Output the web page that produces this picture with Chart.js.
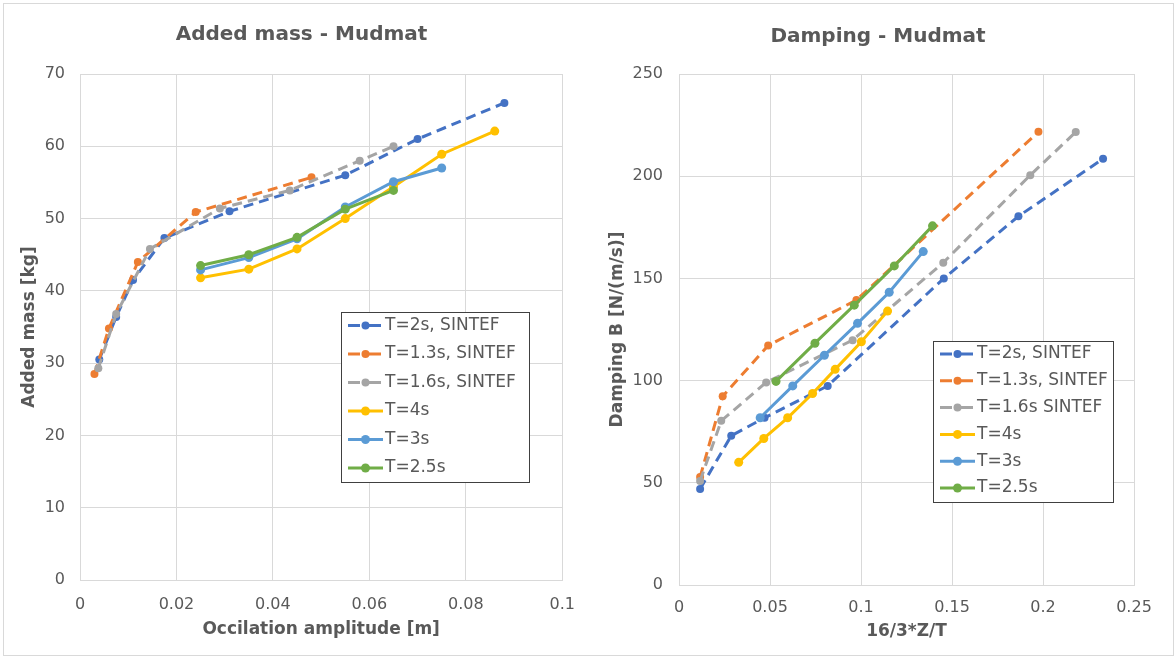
<!DOCTYPE html>
<html>
<head>
<meta charset="utf-8">
<title>Mudmat - added mass and damping</title>
<script src="https://cdn.jsdelivr.net/npm/chart.js@4.4.1/dist/chart.umd.min.js"></script>
<style>
  html, body { margin: 0; padding: 0; background: #fff; }
  #frame { position: absolute; left: 3px; top: 3px; width: 1171px; height: 653px; border: 1px solid #d9d9d9; box-sizing: border-box; }
  #massChart { position: absolute; left: 0; top: 0; }
  #dampChart { position: absolute; left: 590px; top: 0; }
</style>
</head>
<body>
<div id="frame"></div>
<canvas id="massChart" width="590" height="659"></canvas>
<canvas id="dampChart" width="586" height="659"></canvas>
<script>
// Added mass [kg] against oscillation amplitude [m]
const massAmp2s   = [0.004, 0.0075, 0.011, 0.0175, 0.031, 0.055, 0.070, 0.088];
const mass2s      = [30.5, 36.4, 41.5, 47.3, 51.0, 56.0, 61.0, 66.0];
const massAmp13s  = [0.003, 0.006, 0.012, 0.024, 0.048];
const mass13s     = [28.5, 34.8, 44.0, 50.9, 55.7];
const massAmp16s  = [0.0038, 0.0075, 0.0145, 0.029, 0.0435, 0.058, 0.065];
const mass16s     = [29.3, 36.8, 45.8, 51.4, 53.9, 58.0, 60.0];
const massAmp4s   = [0.025, 0.035, 0.045, 0.055, 0.065, 0.075, 0.086];
const mass4s      = [41.8, 43.0, 45.8, 50.0, 54.4, 58.9, 62.1];
const massAmp3s   = [0.025, 0.035, 0.045, 0.055, 0.065, 0.075];
const mass3s      = [42.9, 44.6, 47.2, 51.6, 55.1, 57.0];
const massAmp25s  = [0.025, 0.035, 0.045, 0.055, 0.065];
const mass25s     = [43.5, 45.0, 47.4, 51.3, 53.9];

// Damping B [N/(m/s)] against 16/3*Z/T
const dampX2s   = [0.0116, 0.0287, 0.047, 0.0817, 0.1455, 0.1865, 0.233];
const damp2s    = [47.0, 73.0, 81.8, 97.4, 150.0, 180.4, 208.5];
const dampX13s  = [0.0116, 0.024, 0.049, 0.0975, 0.1975];
const damp13s   = [52.8, 92.3, 117.2, 139.4, 221.7];
const dampX16s  = [0.0116, 0.0232, 0.0479, 0.0954, 0.1452, 0.193, 0.218];
const damp16s   = [50.9, 80.3, 99.1, 119.8, 157.7, 200.5, 221.6];
const dampX4s   = [0.0328, 0.0466, 0.0597, 0.0734, 0.0858, 0.1002, 0.1146];
const damp4s    = [60.0, 71.7, 81.8, 93.7, 105.5, 119.0, 134.0];
const dampX3s   = [0.0446, 0.0625, 0.0799, 0.0981, 0.1155, 0.1342];
const damp3s    = [81.8, 97.4, 112.4, 128.0, 143.2, 163.1];
const dampX25s  = [0.0533, 0.0747, 0.0963, 0.1183, 0.1393];
const damp25s   = [99.6, 118.3, 136.9, 156.1, 175.7];

const massLabels = ['T=2s, SINTEF', 'T=1.3s, SINTEF', 'T=1.6s, SINTEF', 'T=4s', 'T=3s', 'T=2.5s'];
const dampLabels = ['T=2s, SINTEF', 'T=1.3s, SINTEF', 'T=1.6s SINTEF', 'T=4s', 'T=3s', 'T=2.5s'];

const colors = ['#4472C4', '#ED7D31', '#A5A5A5', '#FFC000', '#5B9BD5', '#70AD47'];
const textColor = '#595959';
const gridColor = '#d9d9d9';
const fontFamily = '"DejaVu Sans", Verdana, sans-serif';

Chart.defaults.font.family = fontFamily;
Chart.defaults.color = textColor;

function zip(xs, ys) {
    return xs.map((x, i) => ({ x: x, y: ys[i] }));
}

// the first three series are dashed, later series are drawn on top
function series(label, xs, ys, i) {
    const dashed = i < 3;
    return {
        label: label,
        data: zip(xs, ys),
        showLine: true,
        borderColor: colors[i],
        backgroundColor: colors[i],
        pointBackgroundColor: colors[i],
        pointBorderColor: colors[i],
        borderWidth: 3,
        borderDash: dashed ? [10, 6] : [],
        pointRadius: dashed ? 4 : 4.5,
        pointBorderWidth: 0,
        order: 6 - i,
    };
}

// boxed legend sitting inside the plot
const boxLegend = {
    id: 'boxLegend',
    afterDraw(chart, args, opts) {
        const ctx = chart.ctx;
        ctx.save();
        ctx.fillStyle = '#fff';
        ctx.fillRect(opts.x, opts.y, opts.w, opts.h);
        ctx.strokeStyle = '#404040';
        ctx.lineWidth = 1;
        ctx.strokeRect(opts.x + 0.5, opts.y + 0.5, opts.w, opts.h);
        ctx.font = '17px ' + fontFamily;
        ctx.textBaseline = 'middle';
        chart.data.datasets.forEach((ds, i) => {
            const cy = opts.y + opts.first + i * opts.rowH;
            const x0 = opts.x + 7;
            const x1 = x0 + 35;
            ctx.strokeStyle = ds.borderColor;
            ctx.lineWidth = 3;
            ctx.setLineDash(ds.borderDash.length ? [12, 9] : []);
            ctx.beginPath();
            ctx.moveTo(x0, cy);
            ctx.lineTo(x1, cy);
            ctx.stroke();
            ctx.setLineDash([]);
            ctx.fillStyle = ds.pointBackgroundColor;
            ctx.beginPath();
            ctx.arc((x0 + x1) / 2, cy, ds.pointRadius, 0, Math.PI * 2);
            ctx.fill();
            ctx.fillStyle = textColor;
            ctx.fillText(ds.label, x1 + 2, cy);
        });
        ctx.restore();
    }
};

const tickFormat = v => Number(v.toFixed(3)).toString();

function axis(min, max, step, title, extra) {
    return Object.assign({
        type: 'linear',
        min: min,
        max: max,
        ticks: { stepSize: step, color: textColor, font: { size: 16 }, callback: tickFormat },
        grid: { color: gridColor, drawTicks: false },
        border: { color: gridColor },
        title: { display: true, text: title, color: textColor, font: { size: 17, weight: 'bold' } },
    }, extra);
}

const massChart = new Chart(document.getElementById('massChart'), {
    type: 'scatter',
    data: {
        datasets: [
            series(massLabels[0], massAmp2s, mass2s, 0),
            series(massLabels[1], massAmp13s, mass13s, 1),
            series(massLabels[2], massAmp16s, mass16s, 2),
            series(massLabels[3], massAmp4s, mass4s, 3),
            series(massLabels[4], massAmp3s, mass3s, 4),
            series(massLabels[5], massAmp25s, mass25s, 5),
        ]
    },
    options: {
        responsive: false,
        animation: false,
        devicePixelRatio: 1,
        layout: { padding: { left: 40, right: 27, top: 0, bottom: 0 } },
        plugins: {
            legend: { display: false },
            tooltip: { enabled: false },
            title: {
                display: true,
                text: 'Added mass - Mudmat',
                color: textColor,
                font: { size: 20, weight: 'bold' },
                padding: { top: 23, bottom: 27 }
            },
            boxLegend: { x: 341, y: 312, w: 188, h: 170, first: 13.5, rowH: 28.5 }
        },
        scales: {
            x: axis(0, 0.1, 0.02, 'Occilation amplitude [m]', {
                afterFit: s => { s.height = 79; }
            }),
            y: axis(0, 70, 10, 'Added mass [kg]', {
                afterFit: s => { s.width = 40; }
            })
        }
    },
    plugins: [boxLegend]
});
massChart.options.scales.x.ticks.padding = 15;
massChart.options.scales.x.title.padding = { top: 0, bottom: 18.8 };
massChart.options.scales.y.ticks.padding = 15;
massChart.options.scales.y.title.padding = { top: -20.2, bottom: 0 };
massChart.update();

const dampChart = new Chart(document.getElementById('dampChart'), {
    type: 'scatter',
    data: {
        datasets: [
            series(dampLabels[0], dampX2s, damp2s, 0),
            series(dampLabels[1], dampX13s, damp13s, 1),
            series(dampLabels[2], dampX16s, damp16s, 2),
            series(dampLabels[3], dampX4s, damp4s, 3),
            series(dampLabels[4], dampX3s, damp3s, 4),
            series(dampLabels[5], dampX25s, damp25s, 5),
        ]
    },
    options: {
        responsive: false,
        animation: false,
        devicePixelRatio: 1,
        layout: { padding: { left: 32, right: 42, top: 0, bottom: 0 } },
        plugins: {
            legend: { display: false },
            tooltip: { enabled: false },
            title: {
                display: true,
                text: 'Damping - Mudmat',
                color: textColor,
                font: { size: 20, weight: 'bold' },
                padding: { top: 25, bottom: 25 }
            },
            boxLegend: { x: 343, y: 341, w: 180, h: 161, first: 13, rowH: 26.8 }
        },
        scales: {
            x: axis(0, 0.25, 0.05, '16/3*Z/T', {
                afterFit: s => { s.height = 74; }
            }),
            y: axis(0, 250, 50, 'Damping B [N/(m/s)]', {
                afterFit: s => { s.width = 57; }
            })
        }
    },
    plugins: [boxLegend]
});
dampChart.options.scales.x.ticks.padding = 13;
dampChart.options.scales.x.title.padding = { top: 0, bottom: 16.8 };
dampChart.options.scales.y.ticks.padding = 16;
dampChart.options.scales.y.title.padding = { top: -14.2, bottom: 0 };
dampChart.update();
</script>
</body>
</html>
